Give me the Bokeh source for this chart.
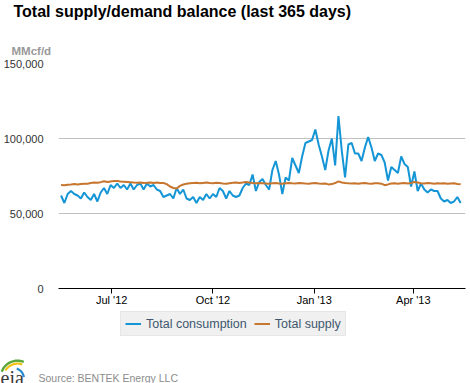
import math
from datetime import datetime
import pandas as pd
from bokeh.plotting import figure
from bokeh.layouts import column
from bokeh.models import (Legend, LegendItem, FixedTicker, DatetimeTickFormatter, Title, Label,
                          NumeralTickFormatter, Range1d, ColumnDataSource)
from bokeh.embed import file_html
from bokeh.resources import INLINE

# ---------------- data (MMcf/d, every 3 days from 16 May 2012) ----
start_date = "2012-05-16"
step_days = 3
consumption_k = [62, 57, 63, 65, 63, 62, 60, 64, 61, 59,
                 63, 58, 64, 67, 63, 69, 67, 70, 67, 69,
                 66, 70, 66, 69, 70, 66, 70, 68, 69, 66,
                 65, 61, 62, 63, 60, 67, 63, 66, 60, 59,
                 61, 57, 61, 59, 63, 60, 63, 61, 67, 65,
                 60, 65, 62, 61, 62, 67, 70, 69, 76, 65,
                 71, 73, 69, 66, 79, 85, 76, 63, 74, 72,
                 87, 82, 77, 88, 97, 98, 99, 106, 96, 88,
                 79, 92, 100, 82, 115, 92, 74, 96, 97, 90,
                 90, 85, 94, 101, 94, 85, 90, 89, 84, 72,
                 81, 79, 77, 88, 83, 81, 68, 78, 65, 70,
                 66, 64, 66, 65, 65, 60, 58, 59, 57, 58,
                 61, 57]
supply_k = [69.0, 68.8, 69.1, 69.3, 69.6, 69.4, 69.7, 69.9, 69.8, 70.3, 70.6, 70.5, 70.9,
            71.5, 71.0, 71.4, 71.6, 71.7, 71.3, 71.2, 71.0,
            70.8, 70.6, 70.5, 70.7, 70.4, 70.5, 70.7, 70.3, 70.6, 70.4,
            70.3, 69.6, 68.0, 67.0, 66.7, 68.4,
            69.3, 69.8, 70.1, 70.3, 70.5, 70.2, 70.4, 70.6, 70.3, 70.2, 70.5, 70.3, 70.0, 69.8,
            70.2, 70.5, 70.7, 70.4, 70.6,
            71.0, 70.6, 70.3, 70.1, 70.4, 70.2, 70.0, 69.8, 70.1, 70.3, 70.0, 69.9, 70.2, 70.4,
            70.1, 70.0, 70.3, 70.2, 70.0, 69.9, 70.1, 70.3, 70.0, 69.8, 70.0,
            69.4, 69.6, 70.3, 71.4, 70.7,
            70.3, 70.1, 70.0, 70.2, 69.9, 70.1, 70.3, 70.0, 69.8, 70.1, 70.2, 69.9,
            68.9, 69.4, 70.0, 70.2, 69.9, 70.1, 70.3, 70.0, 70.4,
            71.0, 70.6, 70.2, 70.0, 70.3, 70.1, 69.9, 70.2, 70.0, 70.1, 69.8, 70.0, 70.2, 69.7, 69.5]
tick_dates = ["2012-07-01", "2012-10-01", "2013-01-01", "2013-04-01"]
y_ticks = [0, 50000, 100000, 150000]
series_names = ["Total consumption", "Total supply"]
title_text = "Total supply/demand balance (last 365 days)"
unit_text = "MMcf/d"
source_text = "Source: BENTEK Energy LLC"
logo_text = "eia"

dates = pd.date_range(start_date, periods=len(consumption_k), freq=f"{step_days}D")
src = ColumnDataSource(dict(date=dates,
                            consumption=[v * 1000 for v in consumption_k],
                            supply=[v * 1000 for v in supply_k]))

FONT = "Liberation Sans"
BLUE = "#1495d6"
ORANGE = "#c7762f"
W = 470
MAIN_H = 308
FOOT_H = 383 - MAIN_H


def no_align(f):
    try:
        f.frame_align = False
    except Exception:
        pass


# ---------------- main chart ----------------
p = figure(width=W, height=MAIN_H, x_axis_type="datetime", output_backend="svg",
           toolbar_location=None, title=None,
           x_range=Range1d(datetime(2012, 5, 13, 16), datetime(2013, 5, 18, 10)),
           y_range=Range1d(0, 150000),
           min_border_left=52, min_border_right=5, min_border_top=63, min_border_bottom=20)
no_align(p)
p.outline_line_color = None
p.background_fill_color = "white"
p.border_fill_color = "white"

p.xaxis.ticker = FixedTicker(ticks=[pd.Timestamp(d).value // 10**6 for d in tick_dates])
fmt = "%b '%y"
p.xaxis.formatter = DatetimeTickFormatter(days=fmt, months=fmt, years=fmt, hours=fmt,
                                          minutes=fmt, seconds=fmt, minsec=fmt, hourmin=fmt)
p.xaxis.axis_line_color = "#000000"
p.xaxis.axis_line_width = 1
p.xaxis.major_tick_line_color = "#000000"
p.xaxis.major_tick_out = 5
p.xaxis.major_tick_in = 0
p.xaxis.minor_tick_line_color = None
p.xaxis.major_label_standoff = 0
p.xaxis.major_label_text_font = FONT
p.xaxis.major_label_text_font_size = "11px"
p.xaxis.major_label_text_color = "#000000"

p.yaxis.ticker = FixedTicker(ticks=y_ticks)
p.yaxis.formatter = NumeralTickFormatter(format="0,0")
p.yaxis.axis_line_color = None
p.yaxis.major_tick_line_color = None
p.yaxis.minor_tick_line_color = None
p.yaxis.major_label_standoff = 9
p.yaxis.major_label_text_font = FONT
p.yaxis.major_label_text_font_size = "11px"
p.yaxis.major_label_text_color = "#333333"

p.xgrid.grid_line_color = None
p.ygrid.ticker = FixedTicker(ticks=y_ticks[1:])
p.ygrid.grid_line_color = "#c0c0c0"
p.ygrid.grid_line_width = 1

p.line("date", "consumption", source=src, line_color=BLUE, line_width=2)
p.line("date", "supply", source=src, line_color=ORANGE, line_width=2)


def spacer(px):
    return Title(text=" ", text_font_size="1px", standoff=px)


# unit and title, stacked outward from the frame
p.add_layout(spacer(4), "above")
p.add_layout(Title(text=unit_text, align="left", offset=-47, standoff=0,
                   text_font=FONT, text_font_size="11.5px", text_font_style="bold",
                   text_color="#999999"), "above")
p.add_layout(spacer(19), "above")
p.add_layout(Title(text=title_text, align="left", offset=-45, standoff=-2,
                   vertical_align="top",
                   text_font=FONT, text_font_size="16px", text_font_style="bold",
                   text_color="#000000"), "above")

# ---------------- footer: legend, logo, source ----------------
foot = figure(width=W, height=FOOT_H, x_range=Range1d(0, W), y_range=Range1d(0, FOOT_H),
              x_axis_location=None, y_axis_location=None, toolbar_location=None,
              output_backend="svg", min_border=0, outline_line_color=None)
no_align(foot)
foot.grid.visible = False
foot.background_fill_color = "white"
foot.border_fill_color = "white"

# legend keys share the styles of the two series above (kept outside the visible range)
k1 = foot.line(x=[-20, -10], y=[-20, -20], line_color=BLUE, line_width=2)
k2 = foot.line(x=[-20, -10], y=[-20, -20], line_color=ORANGE, line_width=2)
legend = Legend(items=[LegendItem(label=series_names[0], renderers=[k1]),
                       LegendItem(label=series_names[1], renderers=[k2])],
                orientation="horizontal", location=(120, FOOT_H - 28),
                background_fill_color="#f0f0f0", background_fill_alpha=1.0,
                border_line_color="#dcdcdc", border_line_width=1,
                label_text_font=FONT, label_text_font_size="12.5px",
                label_text_color="#3e576f", glyph_width=16, glyph_height=15,
                label_height=13, label_standoff=5, spacing=7, padding=4, margin=0)
foot.add_layout(legend)

foot.add_layout(Label(x=38, y=5.5, text=source_text, text_font=FONT,
                      text_font_size="10.5px", text_color="#8c8c8c",
                      text_baseline="alphabetic"))
foot.add_layout(Label(x=0, y=6, text=logo_text, text_font="Liberation Serif",
                      text_font_size="20px", text_color="#3a3a3a",
                      text_baseline="alphabetic"))


def arc(cx, cy, r, a0, a1, w, color):
    # logo swoosh; cx, cy in page pixels (cy measured down from the page top)
    n = 16
    angs = [a0 + (a1 - a0) * i / n for i in range(n + 1)]
    xs = [cx + r * math.cos(math.radians(a)) for a in angs] + \
         [cx + (r - w) * math.cos(math.radians(a)) for a in reversed(angs)]
    ys = [383 - (cy - r * math.sin(math.radians(a))) for a in angs] + \
         [383 - (cy - (r - w) * math.sin(math.radians(a))) for a in reversed(angs)]
    foot.patch(xs, ys, fill_color=color, line_color=None)


arc(17, 377, 18, 68, 160, 2.4, "#5aa83c")
arc(17, 377, 15, 70, 150, 2.2, "#f2c21b")
arc(13, 378, 11.5, 8, 72, 2.2, "#2a8ccf")

layout = column(p, foot, spacing=0)
open("out.html", "w").write(file_html(layout, INLINE))
